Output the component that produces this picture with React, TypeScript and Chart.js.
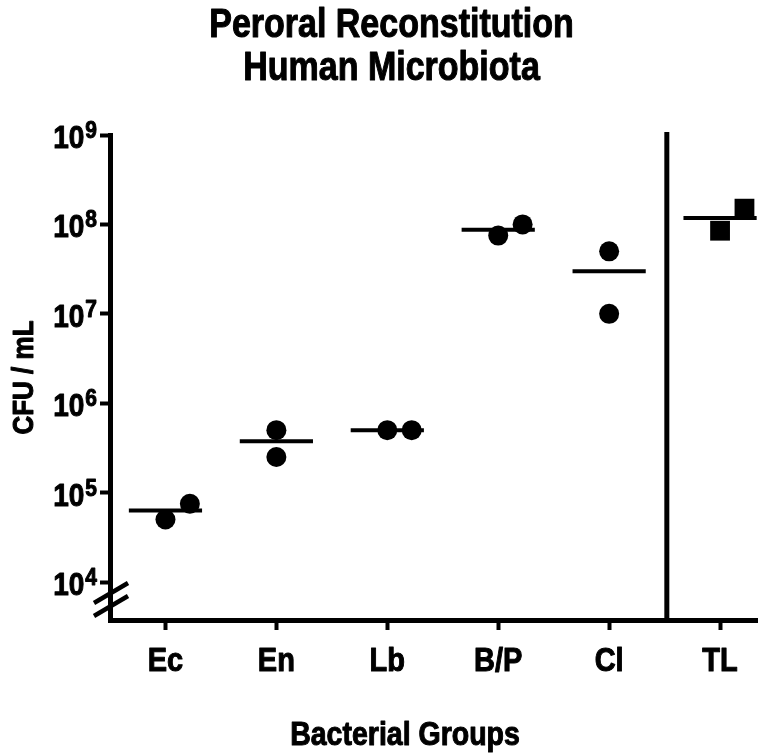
import { useEffect, useRef } from "react";
import { Chart, registerables } from "chart.js";

Chart.register(...registerables);

// ---- data ----
const categories = ["Ec", "En", "Lb", "B/P", "Cl", "TL"];
const replicate1 = [5e4, 5e5, 5e5, 7.5e7, 5e7, 8.5e7];
const replicate2 = [7.5e4, 2.5e5, 5e5, 1e8, 1e7, 1.5e8];
const medians = [6.3e4, 3.75e5, 5e5, 8.7e7, 3e7, 1.18e8];
const yTickValues = [1e4, 1e5, 1e6, 1e7, 1e8, 1e9];
const squareGroups = ["TL"];
const titleLines = ["Peroral Reconstitution", "Human Microbiota"];
const xTitle = "Bacterial Groups";
const yTitle = "CFU / mL";

// ---- layout / style (not data) ----
const replicate2Offset = [0.22, 0, 0.22, 0.22, 0, 0.22];
const MEDIAN_HALF = 0.33;
const SEPARATOR_AT = 4.52;
const FONT = "'Liberation Sans', Arial, Helvetica, sans-serif";

Chart.defaults.font.family = FONT;
Chart.defaults.color = "#000";

function drawText(
  ctx: CanvasRenderingContext2D,
  text: string,
  x: number,
  y: number,
  size: number,
  sy: number,
  align: CanvasTextAlign,
  rotate = false
) {
  ctx.save();
  ctx.translate(x, y);
  if (rotate) ctx.rotate(-Math.PI / 2);
  ctx.scale(1, sy);
  ctx.font = `bold ${size}px ${FONT}`;
  ctx.textAlign = align;
  ctx.textBaseline = "alphabetic";
  ctx.fillStyle = "#000";
  ctx.strokeStyle = "#000";
  ctx.lineWidth = 0.9;
  ctx.lineJoin = "round";
  ctx.fillText(text, 0, 0);
  ctx.strokeText(text, 0, 0);
  ctx.restore();
}

const decorPlugin = {
  id: "decor",
  afterDraw(chart: any) {
    const { ctx, chartArea, scales } = chart;
    const xs = scales.x;
    const ys = scales.y;
    const L = chartArea.left;
    const B = chartArea.bottom;
    const W = chart.width;
    ctx.save();
    ctx.strokeStyle = "#000";
    ctx.lineCap = "butt";
    // separator line
    const sx = xs.getPixelForValue(SEPARATOR_AT);
    ctx.lineWidth = 5;
    ctx.beginPath();
    ctx.moveTo(sx, chartArea.top - 3);
    ctx.lineTo(sx, B);
    ctx.stroke();
    // axis break marks
    ctx.lineWidth = 4.5;
    for (const d of [0, 13]) {
      ctx.beginPath();
      ctx.moveTo(L - 16, B - 4 - d);
      ctx.lineTo(L + 18, B - 24 - d);
      ctx.stroke();
    }
    ctx.restore();

    // title
    drawText(ctx, titleLines[0], W / 2, 37, 34, 1.18, "center");
    drawText(ctx, titleLines[1], W / 2, 80, 34, 1.18, "center");

    // y tick labels with superscript exponents
    ctx.save();
    for (const t of ys.ticks) {
      const py = ys.getPixelForValue(t.value);
      const exp = String(Math.round(Math.log10(t.value)));
      const right = L - 13;
      ctx.font = `bold 21px ${FONT}`;
      const ew = ctx.measureText(exp).width;
      drawText(ctx, exp, right, py + 3, 21, 1.1, "right");
      drawText(ctx, "10", right - ew - 1, py + 13, 28, 1.12, "right");
    }
    ctx.restore();

    // x tick labels
    for (const t of xs.ticks) {
      const px = xs.getPixelForValue(t.value);
      drawText(ctx, String(t.label), px, B + 51, 29, 1.12, "center");
    }

    // axis titles
    drawText(ctx, xTitle, L + 295, 745, 28.5, 1.15, "center");
    drawText(ctx, yTitle, 33, (chartArea.top + B) / 2, 26, 1.1, "center", true);
  },
};

export default function App() {
  const ref = useRef<HTMLCanvasElement>(null);
  useEffect(() => {
    document.body.style.margin = "0";
    const circleData: any[] = [];
    const squareData: any[] = [];
    categories.forEach((c, i) => {
      const pts = [
        { x: i, y: replicate1[i] },
        { x: i + replicate2Offset[i], y: replicate2[i] },
      ];
      (squareGroups.includes(c) ? squareData : circleData).push(...pts);
    });
    const medianSets = medians.map((m, i) => ({
      showLine: true,
      data: [
        { x: i - MEDIAN_HALF, y: m },
        { x: i + MEDIAN_HALF, y: m },
      ],
      borderColor: "#000",
      borderWidth: 4,
      borderCapStyle: "butt",
      pointRadius: 0,
      pointHoverRadius: 0,
      clip: false,
    }));
    const axisGrid = {
      display: true,
      drawOnChartArea: false,
      drawTicks: true,
      tickLength: 10,
      tickWidth: 4,
      tickColor: "#000",
    };
    const axisBorder = { display: true, width: 5, color: "#000" };
    const chart = new Chart(ref.current as HTMLCanvasElement, {
      type: "scatter",
      data: {
        datasets: [
          {
            data: circleData,
            pointStyle: "circle",
            pointRadius: 10,
            pointHoverRadius: 10,
            backgroundColor: "#000",
            borderWidth: 0,
            clip: false,
          },
          {
            data: squareData,
            pointStyle: "rect",
            pointRadius: 14,
            pointHoverRadius: 14,
            backgroundColor: "#000",
            borderWidth: 0,
            clip: false,
          },
          ...medianSets,
        ] as any,
      },
      options: {
        animation: false,
        responsive: false,
        devicePixelRatio: 1,
        layout: { padding: { left: 0, right: 26, top: 135, bottom: 0 } },
        plugins: {
          legend: { display: false },
          tooltip: { enabled: false },
          title: { display: false },
        },
        scales: {
          x: {
            type: "linear",
            min: -0.5,
            max: 5.333,
            afterBuildTicks: (s: any) => {
              s.ticks = categories.map((_, i) => ({ value: i }));
            },
            afterFit: (s: any) => {
              s.height = 136;
            },
            grid: axisGrid as any,
            border: axisBorder,
            ticks: {
              display: false,
              callback: (v: any) => categories[v] ?? "",
              autoSkip: false,
              maxRotation: 0,
            },
          },
          y: {
            type: "logarithmic",
            min: 3760,
            max: 1e9,
            afterBuildTicks: (s: any) => {
              s.ticks = yTickValues.map((v) => ({ value: v }));
            },
            afterFit: (s: any) => {
              s.width = 110;
            },
            grid: axisGrid as any,
            border: axisBorder,
            ticks: { display: false },
          },
        },
      } as any,
      plugins: [decorPlugin],
    });
    return () => chart.destroy();
  }, []);
  return (
    <div style={{ width: 783, height: 756 }}>
      <canvas ref={ref} width={783} height={756} style={{ display: "block" }} />
    </div>
  );
}
